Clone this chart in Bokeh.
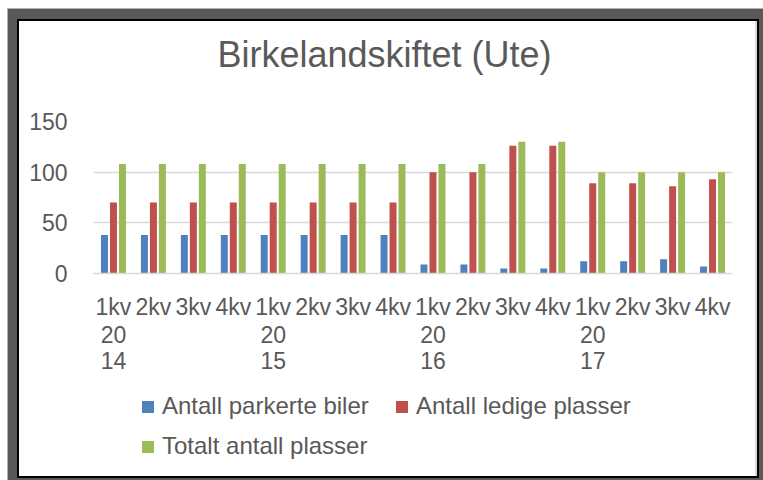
from bokeh.plotting import figure
from bokeh.layouts import column
from bokeh.models import (ColumnDataSource, Range1d, FixedTicker, Legend, LegendItem,
                          LinearAxis, Title)
from bokeh.transform import dodge
from bokeh.embed import file_html
from bokeh.resources import INLINE

# ---- data ----
quarters = ["1kv", "2kv", "3kv", "4kv"] * 4
years = ["2014"] * 4 + ["2015"] * 4 + ["2016"] * 4 + ["2017"] * 4
parkerte = [38, 38, 38, 38, 38, 38, 38, 38, 9, 9, 5, 5, 12, 12, 14, 7]
ledige = [70, 70, 70, 70, 70, 70, 70, 70, 100, 100, 126, 126, 89, 89, 86, 93]
totalt = [108, 108, 108, 108, 108, 108, 108, 108, 108, 108, 130, 130, 100, 100, 100, 100]
series_names = ["Antall parkerte biler", "Antall ledige plasser", "Totalt antall plasser"]
colors = ["#4f81bd", "#c0504d", "#9bbb59"]
y_ticks = [0, 50, 100, 150]
title_text = "Birkelandskiftet (Ute)"

FONT = "Liberation Sans"
TXT = "#595959"
DARK = "#595959"

x_idx = list(range(len(quarters)))
year_idx = [i for i, q in enumerate(quarters) if q == "1kv"]

src = ColumnDataSource(dict(x=x_idx, parkerte=parkerte, ledige=ledige, totalt=totalt))

# ---------------- main chart ----------------
p = figure(frame_width=639, frame_height=152, output_backend="svg", toolbar_location=None,
           x_range=Range1d(-0.5, len(quarters) - 0.5), y_range=Range1d(0, 150),
           min_border_left=93, min_border_right=31, min_border_top=121, min_border_bottom=110)
p.border_fill_color = None
p.background_fill_color = "white"
p.outline_line_color = None

bw = 0.175
offs = [-0.225, 0.0, 0.225]
cols = ["parkerte", "ledige", "totalt"]
for c, o, col in zip(cols, offs, colors):
    p.vbar(x=dodge("x", o, range=p.x_range), top=c, width=bw, bottom=0,
           source=src, fill_color=col, line_color=None)

# spacer between frame and title
p.add_layout(Title(text=" ", text_font_size="1px", standoff=39), "above")

p.title.text = title_text
p.title.align = "left"
p.title.offset = 124
p.title.standoff = 10
p.title.text_font = FONT
p.title.text_font_size = "36px"
p.title.text_font_style = "normal"
p.title.text_color = TXT

p.xgrid.grid_line_color = None
p.ygrid.grid_line_color = "#d9d9d9"
p.ygrid.grid_line_width = 1.5
p.yaxis.ticker = FixedTicker(ticks=y_ticks)
p.yaxis.axis_line_color = None
p.yaxis.major_tick_line_color = None
p.yaxis.minor_tick_line_color = None
p.yaxis.major_label_standoff = 20
p.yaxis.major_label_text_font = FONT
p.yaxis.major_label_text_font_size = "23px"
p.yaxis.major_label_text_color = TXT

p.xaxis.ticker = FixedTicker(ticks=x_idx)
p.xaxis.major_label_overrides = {i: q for i, q in zip(x_idx, quarters)}
p.xaxis.axis_line_color = "#d9d9d9"
p.xaxis.axis_line_width = 1.5
p.xaxis.major_tick_line_color = None
p.xaxis.minor_tick_line_color = None
p.xaxis.major_label_standoff = 14
p.xaxis.major_label_text_font = FONT
p.xaxis.major_label_text_font_size = "23px"
p.xaxis.major_label_text_color = TXT

# year labels, wrapped over two lines as in the original ("20" / "14")
for part, so in ((slice(0, 2), -3), (slice(2, 4), 0)):
    ax = LinearAxis(ticker=FixedTicker(ticks=year_idx),
                    major_label_overrides={i: years[i][part] for i in year_idx},
                    axis_line_color=None, major_tick_line_color=None, minor_tick_line_color=None,
                    major_label_standoff=so, major_label_text_font=FONT,
                    major_label_text_font_size="23px", major_label_text_color=TXT)
    p.add_layout(ax, "below")

# ---------------- legend strip ----------------
pl = figure(width=763, height=97, output_backend="svg", toolbar_location=None,
            x_range=Range1d(0, 1), y_range=Range1d(0, 1),
            x_axis_type=None, y_axis_type=None, min_border=0)
pl.border_fill_color = None
pl.background_fill_color = None
pl.outline_line_color = None
pl.xgrid.visible = False
pl.ygrid.visible = False
nan = float("nan")
keys = [pl.vbar(x=[nan], top=[nan], width=0.1, fill_color=col, line_color=None) for col in colors]

legend = Legend(items=[LegendItem(label=n, renderers=[r]) for n, r in zip(series_names, keys)],
                location="top_left", orientation="horizontal", ncols=2,
                title=" ", title_location="left", title_standoff=37, title_text_font_size="1px",
                glyph_width=15, glyph_height=15, label_standoff=7, spacing=12, label_width=220,
                padding=0, margin=9, border_line_color=None, background_fill_alpha=0,
                label_text_font=FONT, label_text_font_size="24px", label_text_color=TXT)
pl.add_layout(legend)

# window-like frame drawn with CSS inset shadows (no effect on layout)
page = column(p, pl, spacing=0, styles={
    "background-color": "white",
    "box-shadow": ", ".join([
        "inset 7px 8px 0 0 white",
        "inset 8px 9px 0 0 #b3b3b3",
        f"inset 17px 19px 0 0 {DARK}",
        f"inset -4px -2px 0 0 {DARK}",
        "inset 19px 21px 0 0 black",
        "inset -6px -4px 0 0 black",
        "inset -8px 0 0 0 #d9d9d9",
    ]),
})

open("out.html", "w").write(file_html(page, INLINE))
